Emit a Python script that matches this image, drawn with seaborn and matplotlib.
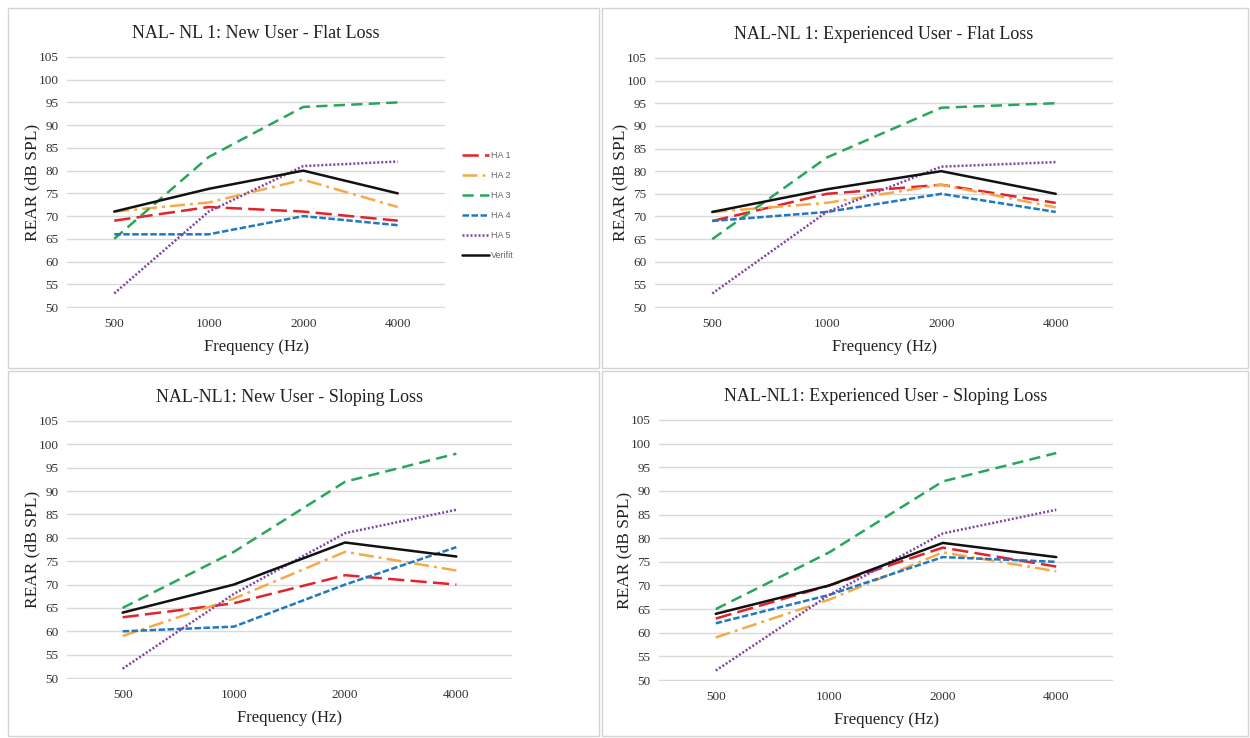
import pandas as pd
import numpy as np
import matplotlib
matplotlib.use("Agg")
import matplotlib.pyplot as plt
import seaborn as sns
from matplotlib.patches import Rectangle


freqs = ["500", "1000", "2000", "4000"]
series = ["HA 1", "HA 2", "HA 3", "HA 4", "HA 5", "Verifit"]

titles = [
    "NAL- NL 1: New User - Flat Loss",
    "NAL-NL 1: Experienced User - Flat Loss",
    "NAL-NL1: New User - Sloping Loss",
    "NAL-NL1: Experienced User - Sloping Loss",
]

# REAR values (dB SPL) read at 500/1000/2000/4000 Hz
new_flat = {
    "HA 1": [69, 72, 71, 69],
    "HA 2": [71, 73, 78, 72],
    "HA 3": [65, 83, 94, 95],
    "HA 4": [66, 66, 70, 68],
    "HA 5": [53, 71, 81, 82],
    "Verifit": [71, 76, 80, 75],
}
exp_flat = {
    "HA 1": [69, 75, 77, 73],
    "HA 2": [71, 73, 77, 72],
    "HA 3": [65, 83, 94, 95],
    "HA 4": [69, 71, 75, 71],
    "HA 5": [53, 71, 81, 82],
    "Verifit": [71, 76, 80, 75],
}
new_slope = {
    "HA 1": [63, 66, 72, 70],
    "HA 2": [59, 67, 77, 73],
    "HA 3": [65, 77, 92, 98],
    "HA 4": [60, 61, 70, 78],
    "HA 5": [52, 68, 81, 86],
    "Verifit": [64, 70, 79, 76],
}
exp_slope = {
    "HA 1": [63, 70, 78, 74],
    "HA 2": [59, 67, 77, 73],
    "HA 3": [65, 77, 92, 98],
    "HA 4": [62, 68, 76, 75],
    "HA 5": [52, 68, 81, 86],
    "Verifit": [64, 70, 79, 76],
}
panels = [new_flat, exp_flat, new_slope, exp_slope]

palette = {
    "HA 1": "#e3232a",
    "HA 2": "#f6a949",
    "HA 3": "#2aa55c",
    "HA 4": "#2079c0",
    "HA 5": "#7f44a3",
    "Verifit": "#111111",
}
dashes = {
    "HA 1": (6.5, 2.5),
    "HA 2": (6, 2, 1.2, 2),
    "HA 3": (4.5, 2.5),
    "HA 4": (2.6, 1),
    "HA 5": (0.8, 0.8),
    "Verifit": "",
}

sns.set_style("white")
plt.rcParams["font.family"] = ["Liberation Serif", "DejaVu Serif"]

fig = plt.figure(figsize=(12.5, 7.38), dpi=100)

# panel frames (figure pixels: x0, y0 top, x1, y1 bottom)
frames = [(8, 8, 599, 368), (602, 8, 1248, 368), (8, 371, 599, 736), (602, 371, 1248, 736)]
for x0, y0, x1, y1 in frames:
    fig.add_artist(Rectangle((x0 / 1250, 1 - y1 / 738), (x1 - x0) / 1250, (y1 - y0) / 738,
                             transform=fig.transFigure, fill=False, edgecolor="#d4d4d4", lw=1))

# axes rectangles in pixels: left, top, right, bottom
boxes = [(67, 56, 445, 308), (655, 57, 1113, 308), (67, 420, 512, 679), (659, 419, 1113, 681)]

for i, (data, title, box) in enumerate(zip(panels, titles, boxes)):
    l, t, r, b = box
    ax = fig.add_axes([l / 1250, 1 - b / 738, (r - l) / 1250, (b - t) / 738])
    df = pd.DataFrame([
        {"pos": j, "value": v, "series": s}
        for s in series for j, v in enumerate(data[s])
    ])
    sns.lineplot(data=df, x="pos", y="value", hue="series", style="series",
                 palette=palette, dashes=dashes, hue_order=series, style_order=series,
                 linewidth=1.8, ax=ax, legend=(i == 0))
    ax.set_xlim(-0.5, 3.5)
    ax.set_ylim(49.8, 105.2)
    ax.set_yticks(np.arange(50, 106, 5))
    ax.set_xticks(range(len(freqs)))
    ax.set_xticklabels(freqs)
    ax.yaxis.grid(True, color="#d9d9d9", lw=1)
    ax.set_axisbelow(True)
    for sp in ax.spines.values():
        sp.set_visible(False)
    ax.tick_params(axis="both", length=0, labelsize=9.5, colors="#333333", pad=6)
    ax.tick_params(axis="x", pad=7)
    ax.set_title(title, fontsize=13, pad=13, color="#222222")
    ax.set_xlabel("Frequency (Hz)", fontsize=12, color="#222222", labelpad=6.5)
    ax.set_ylabel("REAR (dB SPL)", fontsize=12.5, color="#222222", labelpad=-1)

    if i == 0:
        handles, labels = ax.get_legend_handles_labels()
        ax.get_legend().remove()
        leg = fig.legend(handles, labels, loc="upper left", bbox_to_anchor=(462 / 1250, 1 - 151 / 738),
                         bbox_transform=fig.transFigure, frameon=False,
                         handlelength=3.0, handletextpad=0.2, labelspacing=1.22,
                         borderpad=0, borderaxespad=0,
                         prop={"family": "Liberation Sans", "size": 6.5})
        for txt in leg.get_texts():
            txt.set_color("#666666")

fig.savefig("out.png", dpi=100)
